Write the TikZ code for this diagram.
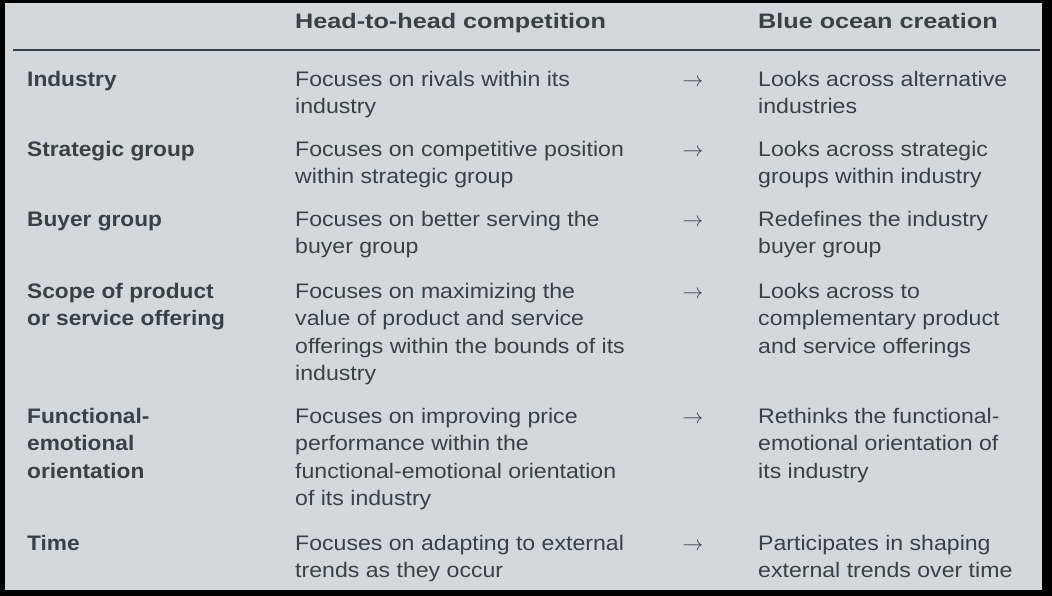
\documentclass[tikz,border=0pt]{standalone}
\usepackage{fontspec}
\setmainfont{Liberation Sans}[FakeStretch=1.1,BoldFeatures={FakeStretch=1.2}]
\newfontfamily\labfont{Liberation Sans}[FakeStretch=1.08,BoldFeatures={FakeStretch=1.08}]
\definecolor{bg}{HTML}{D5D8DB}
\definecolor{ink}{HTML}{3A4048}
\begin{document}
\begin{tikzpicture}[x=1pt,y=-1pt,
  cell/.style={anchor=north west,inner sep=0pt,align=left,text=ink,font=\fontsize{21}{27.5}\selectfont},
  head/.style={cell,font=\fontsize{21}{27.5}\selectfont\bfseries},
  lab/.style={cell,font=\labfont\fontsize{21}{27.5}\selectfont\bfseries},
  arr/.style={anchor=north,inner sep=0pt,text=ink,font=\fontsize{20}{27.5}\selectfont}]
\fill[black] (0,0) rectangle (1052,596);
\fill[bg] (5,3) rectangle (1042,590);
\coordinate (l1) at (13,50);
\coordinate (l2) at (1040,50);
\draw[ink,line width=1.3pt] (l1) -- (l2);
\node[head] (h2) at (295,9) {\strut Head-to-head competition};
\node[head] (h3) at (758,9) {\strut Blue ocean creation};
\foreach \n/\y/\a/\b/\c in {
 1/67/{Industry}/{Focuses on rivals within its\\industry}/{Looks across alternative\\industries},
 2/137/{Strategic group}/{Focuses on competitive position\\within strategic group}/{Looks across strategic\\groups within industry},
 3/207/{Buyer group}/{Focuses on better serving the\\buyer group}/{Redefines the industry\\buyer group},
 4/279/{Scope of product\\or service offering}/{Focuses on maximizing the\\value of product and service\\offerings within the bounds of its\\industry}/{Looks across to\\complementary product\\and service offerings},
 5/404/{Functional-\\emotional\\orientation}/{Focuses on improving price\\performance within the\\functional-emotional orientation\\of its industry}/{Rethinks the functional-\\emotional orientation of\\its industry},
 6/531/{Time}/{Focuses on adapting to external\\trends as they occur}/{Participates in shaping\\external trends over time}}{
  \node[lab] (a\n) at (27,\y) {\strut\a};
  \node[cell] (b\n) at (295,\y) {\strut\b};
  \node[arr] (r\n) at (693,\y) {\strut$\rightarrow$};
  \node[cell] (c\n) at (758,\y) {\strut\c};
}
\end{tikzpicture}
\end{document}
